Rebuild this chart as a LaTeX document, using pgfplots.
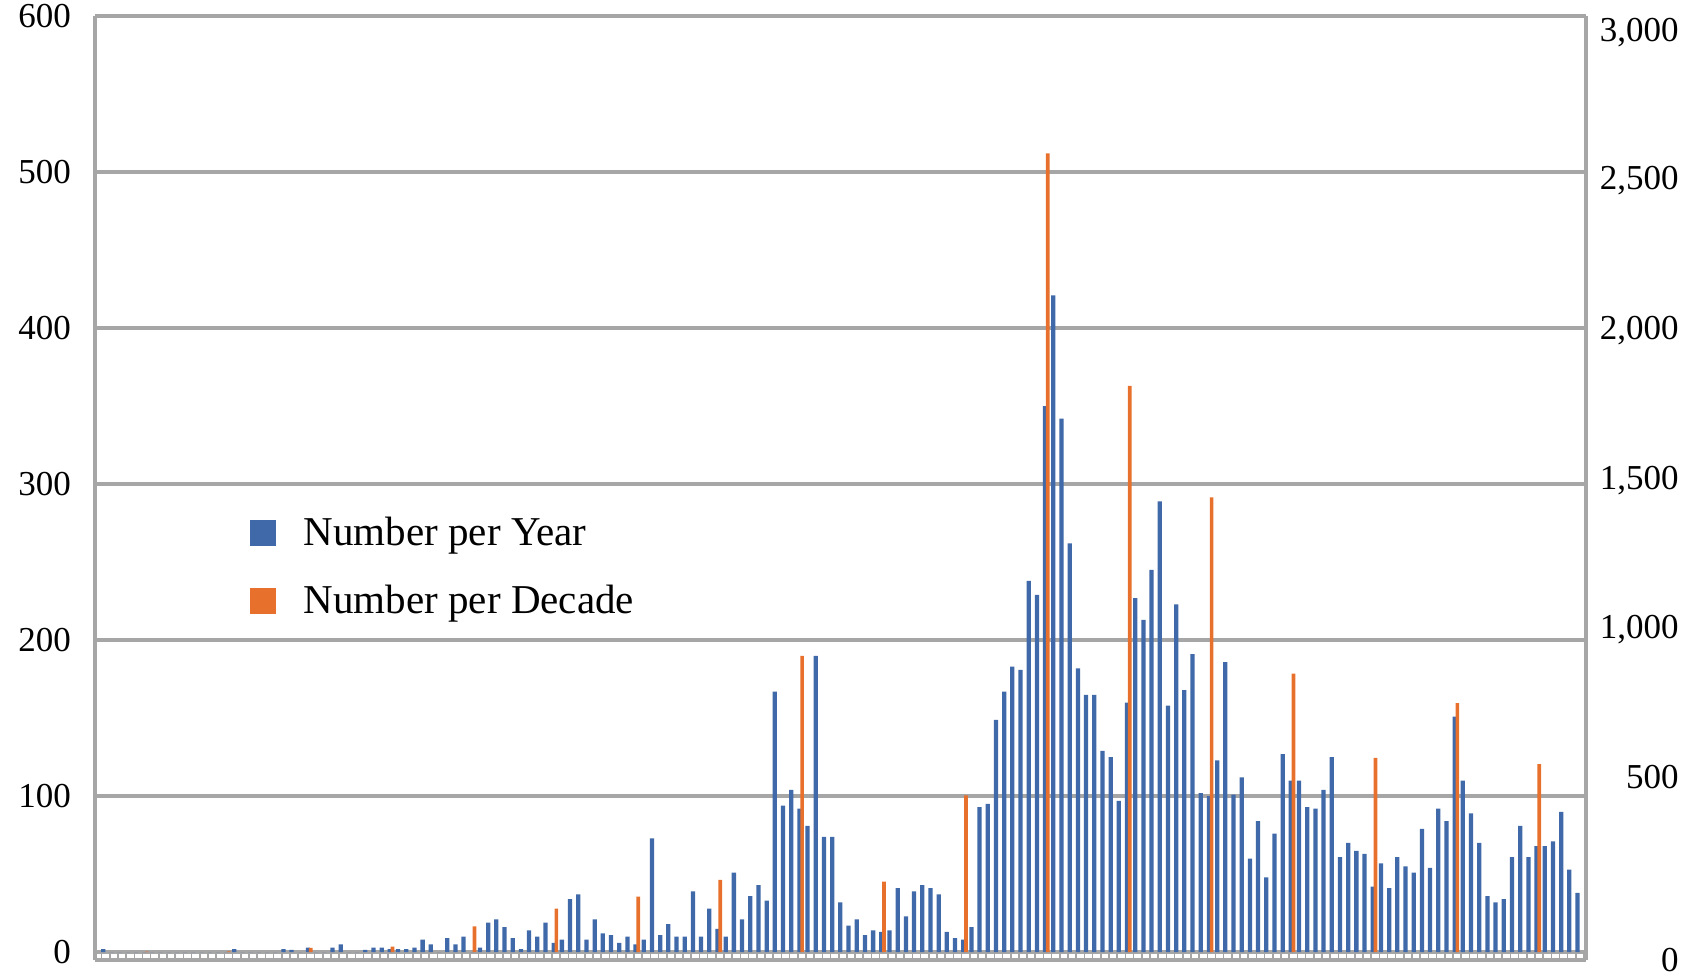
\documentclass[border=0pt]{standalone}
\usepackage{fontspec}
\setmainfont{Liberation Serif}
\usepackage{pgfplots}
\pgfplotsset{compat=1.18}
\definecolor{blueC}{HTML}{3F69A8}
\definecolor{orangeC}{HTML}{E7702C}
\definecolor{gridC}{HTML}{A6A6A6}
\begin{document}
\begin{tikzpicture}
\useasboundingbox (-47.5bp,-10bp) rectangle (798bp,480bp);
\begin{axis}[
  at={(0,0)}, anchor=south west,
  scale only axis, width=745.35bp, height=471.9bp,
  xmin=0, xmax=182, ymin=-5, ymax=600,
  axis x line*=bottom, axis y line*=left,
  axis line style={gridC, line width=2.2bp},
  ytick={0,100,...,600},
  ymajorgrids, grid style={gridC, line width=1.8bp},
  ytick style={draw=none},
  yticklabel style={font=\fontsize{17.5bp}{20bp}\selectfont, inner sep=0pt, xshift=-11.9bp},
  /pgf/number format/assume math mode=true,
  xtick={0.8,1.8,...,181.8}, xticklabels={},
  xtick style={gridC, line width=0.8bp},
  tick align=inside, major tick length=4bp,
  legend style={at={(0.104,0.4735)}, anchor=north west, draw=none, fill=none,
    font=\fontsize{20.5bp}{24bp}\selectfont, row sep=14bp, inner sep=0pt,
    /tikz/every odd column/.append style={column sep=11.8bp}},
  legend cell align=left,
]
\addplot[ybar, bar width=0.52, bar shift=0pt, fill=blueC, draw=none, forget plot] coordinates {
(1,2) (2,0) (3,0) (4,0) (5,0) (6,0) (7,0) (8,0) (9,0) (10,0)
(11,0) (12,0) (13,0) (14,0) (15,0) (16,0) (17,2) (18,0) (19,0) (20,0)
(21,0) (22,0) (23,2) (24,1.5) (25,0) (26,3) (27,0) (28,0) (29,3) (30,5)
(31,0) (32,0) (33,1.5) (34,3) (35,3) (36,2) (37,2) (38,2) (39,3) (40,8)
(41,5) (42,0) (43,9) (44,5) (45,10) (46,0) (47,3) (48,19) (49,21) (50,16)
(51,9) (52,2) (53,14) (54,10) (55,19) (56,6) (57,8) (58,34) (59,37) (60,8)
(61,21) (62,12) (63,11) (64,6) (65,10) (66,5) (67,8) (68,73) (69,11) (70,18)
(71,10) (72,10) (73,39) (74,10) (75,28) (76,15) (77,10) (78,51) (79,21) (80,36)
(81,43) (82,33) (83,167) (84,94) (85,104) (86,92) (87,81) (88,190) (89,74) (90,74)
(91,32) (92,17) (93,21) (94,11) (95,14) (96,13) (97,14) (98,41) (99,23) (100,39)
(101,43) (102,41) (103,37) (104,13) (105,9) (106,8) (107,16) (108,93) (109,95) (110,149)
(111,167) (112,183) (113,181) (114,238) (115,229) (116,350) (117,421) (118,342) (119,262) (120,182)
(121,165) (122,165) (123,129) (124,125) (125,97) (126,160) (127,227) (128,213) (129,245) (130,289)
(131,158) (132,223) (133,168) (134,191) (135,102) (136,100) (137,123) (138,186) (139,101) (140,112)
(141,60) (142,84) (143,48) (144,76) (145,127) (146,110) (147,110) (148,93) (149,92) (150,104)
(151,125) (152,61) (153,70) (154,65) (155,63) (156,42) (157,57) (158,41) (159,61) (160,55)
(161,51) (162,79) (163,54) (164,92) (165,84) (166,151) (167,110) (168,89) (169,70) (170,36)
(171,32) (172,34) (173,61) (174,81) (175,61) (176,68) (177,68) (178,71) (179,90) (180,53)
(181,38)
};
\addlegendimage{legend image code/.code={\fill[blueC] (0bp,-6.25bp) rectangle (12.5bp,6.25bp);}}
\addlegendentry{Number per Year}
\addlegendimage{legend image code/.code={\fill[orangeC] (0bp,-6.25bp) rectangle (12.5bp,6.25bp);}}
\addlegendentry{Number per Decade}
\end{axis}
\begin{axis}[
  at={(0,0)}, anchor=south west,
  scale only axis, width=745.35bp, height=471.9bp,
  xmin=0, xmax=182, ymin=-25, ymax=3000,
  axis x line=none, axis y line*=right,
  axis line style={gridC, line width=2.2bp},
  ytick={-25,560,1034,1511,1992,2472,2949},
  yticklabels={0\hspace{-2.8bp}, 500\hspace{5.8bp}, 1{,}000, 1{,}500, 2{,}000, 2{,}500, 3{,}000},
  ytick style={draw=none},
  yticklabel style={font=\fontsize{17.5bp}{20bp}\selectfont, anchor=east, inner sep=0pt, xshift=46.65bp},
]
\addplot[ybar, bar width=0.45, bar shift=0pt, fill=orangeC, draw=none] coordinates {
(6.33,2) (16.33,3) (26.33,14) (36.33,18) (46.33,83) (56.33,140) (66.33,178) (76.33,232)
(86.33,950) (96.33,226) (106.33,503) (116.33,2560) (126.33,1815) (136.33,1458)
(146.33,893) (156.33,623) (166.33,798) (176.33,603)
};
\end{axis}
\end{tikzpicture}
\end{document}
